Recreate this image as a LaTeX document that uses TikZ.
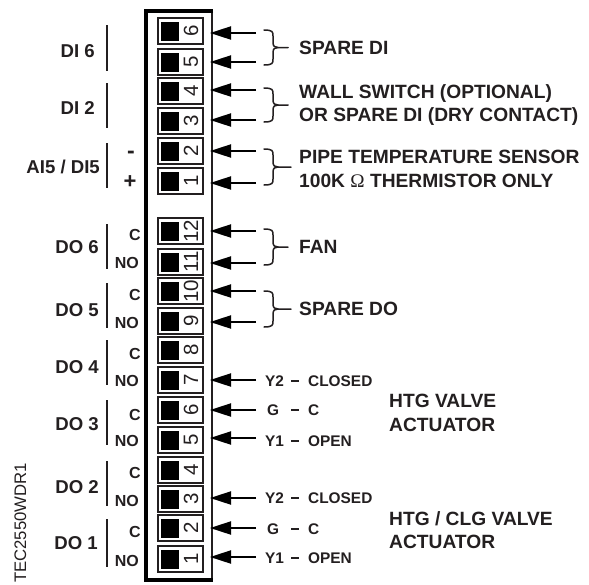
\documentclass[tikz,border=0pt]{standalone}
\usepackage{fontspec}
\setmainfont{Liberation Sans}
\newfontfamily\omegafont{Liberation Serif}
\usetikzlibrary{arrows.meta}
\definecolor{ink}{HTML}{231F20}
\tikzset{
  termbox/.style={draw=ink,line width=1.6pt,fill=white,minimum width=45pt,minimum height=26pt,inner sep=0pt,outer sep=0pt},
  pad/.style={fill=black,minimum width=18pt,minimum height=19pt,inner sep=0pt},
  termnum/.style={font=\fontsize{20.5}{20.5}\selectfont,text=ink,rotate=90,anchor=center,inner sep=0pt},
  wire/.style={draw=black,line width=2pt,-{Triangle[length=21pt,width=13pt]},shorten >=7pt},
  bar/.style={draw=ink,line width=2pt},
  brc/.style={draw=ink,line width=1.5pt,line cap=round},
  big/.style={font=\fontsize{19.2}{19.2}\selectfont\bfseries,text=ink,inner sep=0pt},
  lefty/.style={font=\fontsize{18.6}{18.6}\selectfont\bfseries,text=ink,inner sep=0pt},
  mid/.style={font=\fontsize{16}{16}\selectfont\bfseries,text=ink,inner sep=0pt},
  small/.style={font=\fontsize{15.4}{15.4}\selectfont\bfseries,text=ink,inner sep=0pt}
}
\newcommand{\curly}[5]{% name, top y, bottom y, tail x, unused
  \pgfmathsetmacro{\midy}{(#2+#3)/2}
  \coordinate (#1) at (#4,\midy);
  \draw[brc] (264,#2) .. controls (273,#2) and (273,#2+2) .. (273,#2+6) -- (273,\midy-5)
    .. controls (273,\midy-1) and (275,\midy) .. (278,\midy) -- (#1);
  \draw[brc] (264,#3) .. controls (273,#3) and (273,#3-2) .. (273,#3-6) -- (273,\midy+5)
    .. controls (273,\midy+1) and (275,\midy) .. (278,\midy);
}
\begin{document}
\begin{tikzpicture}[x=1pt,y=-1pt]
\useasboundingbox (0,0) rectangle (589,584);
% enclosure
\coordinate (encTL) at (146,11);
\coordinate (encBR) at (212,580);
\draw[draw=ink,line width=2pt] (encTL -| encBR) -- (encBR);
\draw[draw=black,line width=4pt] (213,11) -- (146,11) -- (146,580) -- (213,580);
% terminals
\foreach \id/\y/\n in {a6/31/6,a5/62/5,a4/91/4,a3/121/3,a2/151/2,a1/181/1,
  b12/231/12,b11/262/11,b10/291/10,b9/321/9,b8/350/8,b7/380/7,b6/410/6,b5/440/5,b4/470/4,b3/499/3,b2/528/2,b1/559/1}{
  \node[termbox] (t\id) at (180.5,\y) {};
  \node[pad] (p\id) at (170,\y) {};
  \node[termnum] (n\id) at (191,\y) {\n};
}
% wires
\foreach \id/\y in {a6/33,a5/62,a4/90,a3/120,a2/151,a1/183,b12/231,b11/263,b10/291,b9/322,b7/380,b6/410,b5/438,b3/498,b2/528,b1/557}{
  \coordinate (w\id) at (256,\y);
  \draw[wire] (w\id) -- (w\id -| t\id.east);
}
% side bars
\foreach \k/\a/\b in {1/25/71,2/83/128,3/143/188,4/224/269,5/283/328,6/340/385,7/400/445,8/461/506,9/519/567}{
  \coordinate (bt\k) at (107,\a);
  \coordinate (bb\k) at (107,\b);
  \draw[bar] (bt\k) -- (bb\k);
}
% left labels
\foreach \id/\y/\x/\t in {la/57/95/DI 6,lb/114/95/DI 2,lc/173/100/{AI5 / DI5},ld/253/99/DO 6,le/316/99/DO 5,lf/373/99/DO 4,lg/430/99/DO 3,lh/493/99/DO 2,li/549/98/DO 1}{
  \node[lefty,anchor=base east] (\id) at (\x,\y) {\t};
}
% C / NO
\foreach \id/\y in {c6/240,c5/300,c4/359,c3/420,c2/478,c1/537}{
  \node[mid,anchor=base east] (\id) at (141,\y) {C};
}
\foreach \id/\y in {o6/268,o5/328,o4/386,o3/446,o2/506,o1/566}{
  \node[mid,anchor=base east] (\id) at (139,\y) {NO};
}
\node[font=\fontsize{23}{23}\selectfont\bfseries,text=ink,inner sep=0pt,anchor=base] (minus) at (131,158) {-};
\node[font=\fontsize{22}{22}\selectfont\bfseries,text=ink,inner sep=0pt,anchor=base] (plus) at (130,188) {+};
% braces
\curly{ba}{30}{65}{288}{}
\curly{bb}{88}{122}{288}{}
\curly{bc}{149}{185}{291}{}
\curly{bd}{229}{265}{288}{}
\curly{be}{291}{327}{291}{}
% right labels
\node[big,anchor=base west] (spdi) at (299,54.5) {SPARE DI};
\node[big,anchor=base west] (wall) at (299,98) {WALL SWITCH (OPTIONAL)};
\node[big,anchor=base west] (ordry) at (299,121.5) {OR SPARE DI (DRY CONTACT)};
\node[big,anchor=base west] (pipe) at (299,163.5) {PIPE TEMPERATURE SENSOR};
\node[big,anchor=base west] (therm) at (299,187) {100K {\omegafont\mdseries Ω} THERMISTOR ONLY};
\node[big,anchor=base west] (fan) at (299,253) {FAN};
\node[big,anchor=base west] (spdo) at (299,315.5) {SPARE DO};
% actuator wires
\foreach \id/\y/\a/\x/\b in {q1/386/Y2/265/CLOSED,q2/415/G/267/C,q3/446/Y1/265/OPEN,q4/503/Y2/265/CLOSED,q5/534/G/267/C,q6/563/Y1/265/OPEN}{
  \node[small,anchor=base west] (\id a) at (\x,\y) {\a};
  \node[small,anchor=base west] (\id b) at (308,\y) {\b};
  \coordinate (\id l) at (291,\y-5.5);
  \coordinate (\id r) at (299,\y-5.5);
  \draw[draw=ink,line width=2pt] (\id l) -- (\id r);
}
\node[big,anchor=base west] (hv) at (389,407.5) {HTG VALVE};
\node[big,anchor=base west] (hva) at (389,431) {ACTUATOR};
\node[big,anchor=base west] (hc) at (389,525) {HTG / CLG VALVE};
\node[big,anchor=base west] (hca) at (389,548) {ACTUATOR};
% code
\node[font=\fontsize{16.7}{16.7}\selectfont,text=ink,inner sep=0pt,rotate=90,anchor=base west] (code) at (26,583) {TEC2550WDR1};
\end{tikzpicture}
\end{document}
